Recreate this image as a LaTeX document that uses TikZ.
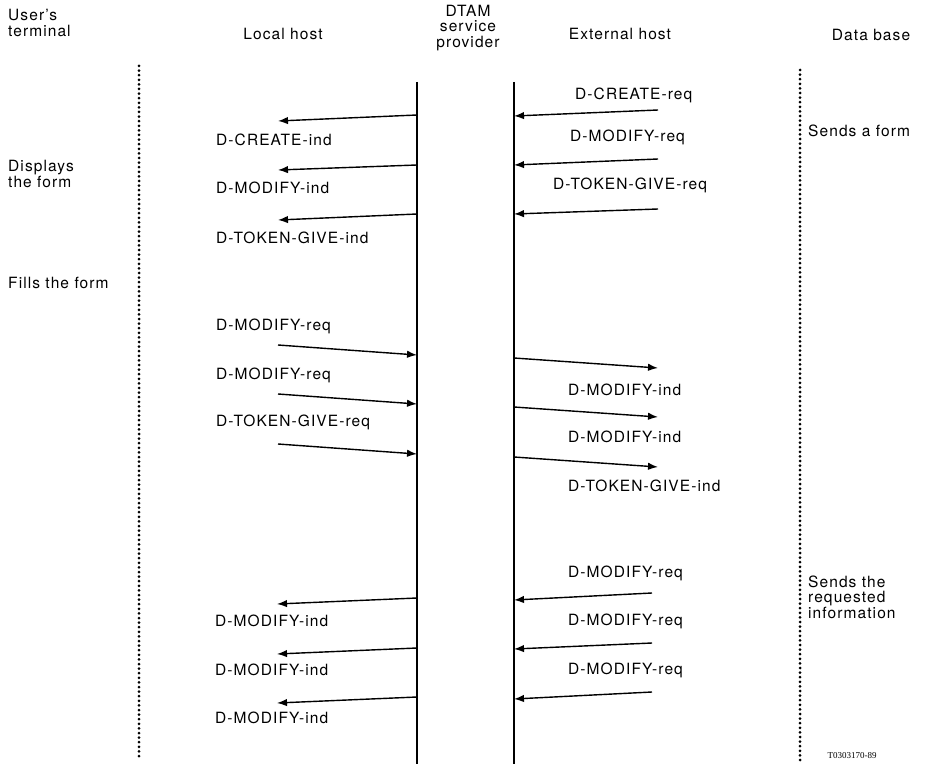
\documentclass[tikz,border=0pt]{standalone}
\usepackage{fontspec}
\setmainfont{TeX Gyre Heros}[LetterSpace=7]
\newfontfamily\codefont{Liberation Serif}
\usetikzlibrary{arrows.meta}
\newcommand{\figfontsize}{\fontsize{15.5}{15.5}\selectfont}
\tikzset{
  every picture/.style = {font=\figfontsize, line join=round},
  life/.style          = {line width=1.6pt},
  dotline/.style       = {line width=3pt, line cap=round, dash pattern=on 0pt off 4.6pt},
  msg/.style           = {line width=1.4pt, -{Latex[length=10pt, width=7.5pt]}},
  lbl/.style           = {inner sep=0pt, anchor=west},
  head/.style          = {inner sep=0pt, align=center},
  side/.style          = {inner sep=0pt, anchor=west, align=left},
}

\begin{document}
\begin{tikzpicture}[x=1pt, y=-1pt]
  \useasboundingbox (0,0) rectangle (925,775);
  \def\Lx{417}\def\Rx{514}\def\Lo{278}\def\Ro{658}   % lifelines, free arrow ends

  % ---------- column heads ----------------------------------------------------
  \node[side] (user)  at (8,23)    {User's\\terminal};
  \node[head] (local) at (283,34)  {Local host};
  \node[head] (dtam)  at (468,28)  {DTAM\\service\\provider};
  \node[head] (ext)   at (620,34)  {External host};
  \node[head] (dbase) at (871,35)  {Data base};

  % ---------- the four vertical lines -----------------------------------------
  \coordinate (Utop) at (139,66);   \coordinate (Ubot) at (139,760);
  \coordinate (Ltop) at (\Lx,82);   \coordinate (Lbot) at (\Lx,764);
  \coordinate (Rtop) at (\Rx,82);   \coordinate (Rbot) at (\Rx,764);
  \coordinate (Dtop) at (800,70);   \coordinate (Dbot) at (800,760);
  \draw[dotline] (Utop) -- (Ubot);
  \draw[life]    (Ltop) -- (Lbot);
  \draw[life]    (Rtop) -- (Rbot);
  \draw[dotline] (Dtop) -- (Dbot);

  % ---------- the form arrives ------------------------------------------------
  \foreach \i/\ya/\yb in {1/110/116, 2/159/165, 3/209/214} {
    \coordinate (ra\i) at (\Ro,\ya);
    \coordinate (rb\i) at (\Rx,\yb);
    \draw[msg] (ra\i) -- (rb\i);
  }
  \foreach \i/\ya/\yb in {1/115/121, 2/165/170, 3/214/220} {
    \coordinate (la\i) at (\Lx,\ya);
    \coordinate (lb\i) at (\Lo,\yb);
    \draw[msg] (la\i) -- (lb\i);
  }
  \node[lbl] (rt1) at (575,95)  {D-CREATE-req};
  \node[lbl] (rt2) at (570,137) {D-MODIFY-req};
  \node[lbl] (rt3) at (553,185) {D-TOKEN-GIVE-req};
  \node[lbl] (lt1) at (216,140) {D-CREATE-ind};
  \node[lbl] (lt2) at (216,188) {D-MODIFY-ind};
  \node[lbl] (lt3) at (216,238) {D-TOKEN-GIVE-ind};

  % ---------- the filled form goes back ---------------------------------------
  \foreach \i/\ya/\yb in {4/345/355, 5/394/404, 6/444/454} {
    \coordinate (la\i) at (\Lo,\ya);
    \coordinate (lb\i) at (\Lx,\yb);
    \draw[msg] (la\i) -- (lb\i);
  }
  \foreach \i/\ya/\yb in {4/358/368, 5/407/417, 6/457/467} {
    \coordinate (ra\i) at (\Rx,\ya);
    \coordinate (rb\i) at (\Ro,\yb);
    \draw[msg] (ra\i) -- (rb\i);
  }
  \node[lbl] (lt4) at (216,326) {D-MODIFY-req};
  \node[lbl] (lt5) at (216,375) {D-MODIFY-req};
  \node[lbl] (lt6) at (216,422) {D-TOKEN-GIVE-req};
  \node[lbl] (rt4) at (568,390) {D-MODIFY-ind};
  \node[lbl] (rt5) at (568,437) {D-MODIFY-ind};
  \node[lbl] (rt6) at (568,486) {D-TOKEN-GIVE-ind};

  % ---------- the requested information ---------------------------------------
  \foreach \i/\ya/\yb in {7/593/600, 8/643/649, 9/692/699} {
    \coordinate (ra\i) at (652,\ya);
    \coordinate (rb\i) at (\Rx,\yb);
    \draw[msg] (ra\i) -- (rb\i);
  }
  \foreach \i/\ya/\yb in {7/598/604, 8/648/654, 9/697/703} {
    \coordinate (la\i) at (\Lx,\ya);
    \coordinate (lb\i) at (277,\yb);
    \draw[msg] (la\i) -- (lb\i);
  }
  \node[lbl] (rt7) at (568,573) {D-MODIFY-req};
  \node[lbl] (rt8) at (568,621) {D-MODIFY-req};
  \node[lbl] (rt9) at (568,670) {D-MODIFY-req};
  \node[lbl] (lt7) at (215,621) {D-MODIFY-ind};
  \node[lbl] (lt8) at (215,670) {D-MODIFY-ind};
  \node[lbl] (lt9) at (215,718) {D-MODIFY-ind};

  % ---------- what the two ends do --------------------------------------------
  \node[side] (shows) at (8,174)   {Displays\\the form};
  \node[side] (fills) at (8,283)   {Fills the form};
  \node[side] (sends) at (808,131) {Sends a form};
  \node[side] (infos) at (808,597) {Sends the\\requested\\information};

  \node[inner sep=0pt, font=\codefont\fontsize{9}{10}\selectfont] (code) at (852,756) {T0303170-89};
\end{tikzpicture}
\end{document}
